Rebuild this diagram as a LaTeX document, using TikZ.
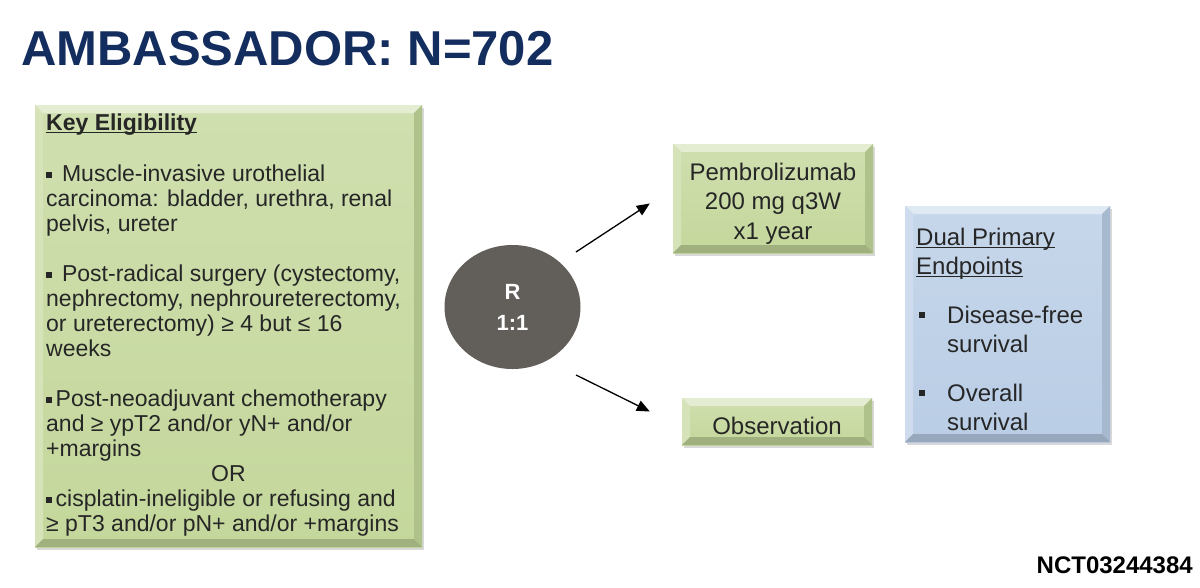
\documentclass[tikz,border=0pt]{standalone}
\usepackage{fontspec}
\setmainfont{Liberation Sans}
\usetikzlibrary{arrows.meta,shapes.geometric,shadows}
\definecolor{eligclr}{RGB}{196,215,155}
\definecolor{endpclr}{RGB}{185,205,229}
\definecolor{randclr}{RGB}{98,94,90}
\definecolor{titleclr}{RGB}{20,45,95}
\newcommand{\sqsm}{\raisebox{3pt}{\rule{6pt}{6pt}}\hspace{3.5pt}}
\newcommand{\sqbig}{\raisebox{5pt}{\rule{6pt}{6pt}}}
\newcommand{\ulbar}[1]{\setbox0\hbox{#1}\rlap{\rule[-3pt]{\wd0}{1.3pt}}\box0}

\begin{document}
\begin{tikzpicture}[x=1pt, y=-1pt,
  box/.style={rectangle, inner sep=0pt, text=black!85, align=center,
    font=\fontsize{24}{29.5}\selectfont},
  boxshadow/.style={drop shadow={shadow xshift=1.5pt, shadow yshift=-2.5pt, opacity=0.3}},
  arr/.style={-{Triangle[length=13pt,width=11pt]}, line width=1.3pt},
  bevel/.style={path picture={
    \fill[#1!45!white] (path picture bounding box.north west) -- (path picture bounding box.north east)
      -- ([shift={(-8pt,-8pt)}]path picture bounding box.north east) -- ([shift={(8pt,-8pt)}]path picture bounding box.north west) -- cycle;
    \fill[#1!70!white] (path picture bounding box.north west) -- ([shift={(8pt,-8pt)}]path picture bounding box.north west)
      -- ([shift={(8pt,8pt)}]path picture bounding box.south west) -- (path picture bounding box.south west) -- cycle;
    \fill[#1!90!black] (path picture bounding box.north east) -- (path picture bounding box.south east)
      -- ([shift={(-8pt,8pt)}]path picture bounding box.south east) -- ([shift={(-8pt,-8pt)}]path picture bounding box.north east) -- cycle;
    \fill[#1!82!black] (path picture bounding box.south west) -- (path picture bounding box.south east)
      -- ([shift={(-8pt,8pt)}]path picture bounding box.south east) -- ([shift={(8pt,8pt)}]path picture bounding box.south west) -- cycle;
  }}]

\useasboundingbox[fill=white] (0,0) rectangle (1200,587);

% Title
\node[anchor=base west, inner sep=0pt, text=titleclr,
  font=\fontsize{49}{55}\selectfont\bfseries] (title) at (21,65) {AMBASSADOR: N=702};

% Eligibility box (text node is placed by the baseline of its last line)
\node[box, minimum width=387pt, minimum height=442pt, boxshadow,
  top color=eligclr!80!white, bottom color=eligclr, bevel=eligclr] (elig) at (228.5,326) {};
\node[anchor=base west, inner sep=0pt, align=left, text=black!85,
  font=\fontsize{23}{25}\selectfont] (eligtxt) at (46,531) {%
  \textbf{\ulbar{Key Eligibility}}\\[26pt]
  \sqsm\ Muscle-invasive urothelial\\
  carcinoma: bladder, urethra, renal\\
  pelvis, ureter\\[25pt]
  \sqsm\ Post-radical surgery (cystectomy,\\
  nephrectomy, nephroureterectomy,\\
  or ureterectomy) ≥ 4 but ≤ 16\\
  weeks\\[25pt]
  \sqsm Post-neoadjuvant chemotherapy\\
  and ≥ ypT2 and/or yN+ and/or\\
  +margins\\
  \hspace*{165pt}OR\\
  \sqsm cisplatin-ineligible or refusing and\\
  ≥ pT3 and/or pN+ and/or +margins};

% Randomisation
\node[ellipse, fill=randclr, minimum width=136pt, minimum height=124pt, inner sep=0pt,
  text=white, align=center, font=\fontsize{22}{31}\selectfont\bfseries] (rnd) at (512.5,307) {R\\1:1};

% Treatment arms
\node[box, minimum width=200pt, minimum height=109pt, boxshadow, text height=86.5pt, text depth=5pt,
  top color=eligclr!80!white, bottom color=eligclr, bevel=eligclr] (pem) at (773,198.5)
  {Pembrolizumab\\200 mg q3W\\x1 year};
\node[box, minimum width=190pt, minimum height=47pt, boxshadow, text height=25pt, text depth=0pt,
  top color=eligclr!80!white, bottom color=eligclr, bevel=eligclr] (obs) at (777,421.5)
  {Observation};

\draw[arr] ([shift={(63.5,-55)}]rnd.center) -- ([shift={(-23,5)}]pem.west);
\draw[arr] ([shift={(63.5,68)}]rnd.center) -- ([shift={(-32,-10)}]obs.west);

% Endpoints box
\node[box, minimum width=205pt, minimum height=236pt, boxshadow,
  top color=endpclr!80!white, bottom color=endpclr, bevel=endpclr] (endp) at (1007.5,324) {};
\node[anchor=base west, inner sep=0pt, align=left, text=black!85,
  font=\fontsize{24}{29}\selectfont] (endptxt) at (916,430) {%
  \ulbar{Dual Primary}\\
  \ulbar{Endpoints}\\[20pt]
  \makebox[31pt][l]{\hspace*{3pt}\sqbig}Disease-free\\
  \hspace*{31pt}survival\\[20pt]
  \makebox[31pt][l]{\hspace*{3pt}\sqbig}Overall\\
  \hspace*{31pt}survival};

% Trial number
\node[anchor=base east, inner sep=0pt, font=\fontsize{24}{29}\selectfont\bfseries] (nct) at (1193,573) {NCT03244384};

\end{tikzpicture}
\end{document}
